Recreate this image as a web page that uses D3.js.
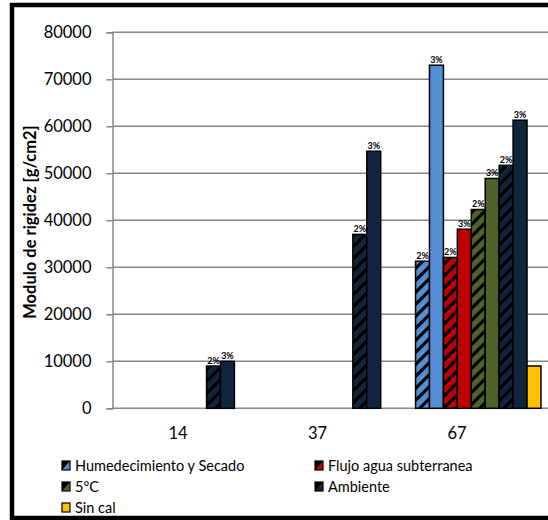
<!DOCTYPE html>
<html>
<head>
<meta charset="utf-8">
<script src="https://cdn.jsdelivr.net/npm/d3@7"></script>
<style>
  html, body { margin: 0; padding: 0; background: #fff; }
  svg { display: block; }
</style>
</head>
<body>
<svg id="chart" width="548" height="520"></svg>
<script>
// Curing ages (days)
const categories = ["14", "37", "67"];

// Curing conditions shown in the legend
const seriesNames = ["Humedecimiento y Secado", "Flujo agua subterranea", "5ºC", "Ambiente", "Sin cal"];
const seriesColors = ["#558ed5", "#c00000", "#4f6228", "#10243e", "#ffc000"];

// Nine bars per age: each condition at 2% and 3% lime, then the untreated sample
const barSeries = [0, 0, 1, 1, 2, 2, 3, 3, 4];
const barLabels = ["2%", "3%", "2%", "3%", "2%", "3%", "2%", "3%", ""];

// Stiffness modulus [g/cm2] per bar, per age (null = not tested)
const values14 = [null, null, null, null, null, null, 9000, 10000, null];
const values37 = [null, null, null, null, null, null, 37000, 54700, null];
const values67 = [31300, 73000, 32100, 38100, 42300, 48900, 51700, 61300, 9000];

const yTicks = [0, 10000, 20000, 30000, 40000, 50000, 60000, 70000, 80000];
const yTitle = "Modulo de rigidez [g/cm2]";

const valuesByCategory = [values14, values37, values67];

const svg = d3.select("#chart");
const FONT = "Lato, 'Open Sans', sans-serif";

// Hatch pattern for the 2% bars, one per colour
const defs = svg.append("defs");
seriesColors.forEach((c, i) => {
  const p = defs.append("pattern")
    .attr("id", "hatch" + i)
    .attr("patternUnits", "userSpaceOnUse")
    .attr("width", 12).attr("height", 12);
  p.append("rect").attr("width", 12).attr("height", 12).attr("fill", c);
  p.append("path")
    .attr("d", "M-3,15 L15,-3 M-3,3 L3,-3 M9,15 L15,9")
    .attr("stroke", "#000").attr("stroke-width", 3.2);
});

// Outer frame
svg.append("rect")
  .attr("x", 12).attr("y", 5)
  .attr("width", 600).attr("height", 513)
  .attr("fill", "#fff")
  .attr("stroke", "#000").attr("stroke-width", 4.5);

const plot = { left: 112.5, top: 32.3, bottom: 408.3 };
const catStep = 146.3;

const x0 = d3.scaleBand()
  .domain(categories)
  .range([plot.left, plot.left + catStep * categories.length]);

const x1 = d3.scaleBand()
  .domain(d3.range(barSeries.length))
  .range([0, x0.bandwidth()])
  .paddingOuter(0.75);

const y = d3.scaleLinear()
  .domain([0, 80000])
  .range([plot.bottom, plot.top]);

// Category label positions along the base
const xLabel = d3.scalePoint()
  .domain(categories)
  .range([178, 457]);

// Gridlines
svg.append("g")
  .selectAll("line")
  .data(yTicks)
  .join("line")
  .attr("x1", plot.left).attr("x2", 560)
  .attr("y1", d => y(d)).attr("y2", d => y(d))
  .attr("stroke", "#868686").attr("stroke-width", 1.5);

// Y axis
const yAxis = svg.append("g")
  .attr("transform", `translate(${plot.left},0)`)
  .call(d3.axisLeft(y).tickValues(yTicks).tickSize(6).tickPadding(15).tickFormat(d3.format("d")));
yAxis.select(".domain").attr("stroke", "#868686").attr("stroke-width", 1.5);
yAxis.selectAll(".tick line").attr("stroke", "#868686").attr("stroke-width", 1.5);
yAxis.selectAll(".tick text")
  .attr("font-family", FONT).attr("font-size", 16.5).attr("fill", "#000");

// Y title
svg.append("text")
  .attr("transform", `translate(36,222) rotate(-90)`)
  .attr("text-anchor", "middle")
  .attr("font-family", FONT).attr("font-weight", "bold")
  .attr("font-size", 16.5).attr("fill", "#000")
  .text(yTitle);

// Category labels
svg.append("g")
  .selectAll("text")
  .data(categories)
  .join("text")
  .attr("x", d => xLabel(d))
  .attr("y", 439)
  .attr("text-anchor", "middle")
  .attr("font-family", FONT).attr("font-size", 16.5).attr("fill", "#000")
  .text(d => d);

// Bars
const barData = [];
categories.forEach((cat, ci) => {
  valuesByCategory[ci].forEach((v, bi) => {
    if (v !== null) barData.push({ cat, bi, v });
  });
});

const bars = svg.append("g");
bars.selectAll("rect")
  .data(barData)
  .join("rect")
  .attr("x", d => x0(d.cat) + x1(d.bi))
  .attr("y", d => y(d.v))
  .attr("width", x1.bandwidth())
  .attr("height", d => y(0) - y(d.v))
  .attr("fill", d => barLabels[d.bi] === "2%" ? `url(#hatch${barSeries[d.bi]})` : seriesColors[barSeries[d.bi]])
  .attr("stroke", "#000").attr("stroke-width", 1.5);

// Value labels (lime content)
bars.selectAll("text")
  .data(barData.filter(d => barLabels[d.bi] !== ""))
  .join("text")
  .attr("x", d => x0(d.cat) + x1(d.bi) + x1.bandwidth() / 2)
  .attr("y", d => y(d.v) - 2.5)
  .attr("text-anchor", "middle")
  .attr("font-family", FONT).attr("font-weight", "bold")
  .attr("font-size", 9).attr("fill", "#000")
  .text(d => barLabels[d.bi]);

// Legend
const legendPos = [[62, 466], [315, 466], [62, 487], [315, 487], [62, 508]];
const legend = svg.append("g");
seriesNames.forEach((name, i) => {
  const [lx, ly] = legendPos[i];
  const g = legend.append("g").attr("transform", `translate(${lx},${ly})`);
  g.append("rect")
    .attr("x", 0).attr("y", -5).attr("width", 8).attr("height", 9)
    .attr("fill", seriesColors[i]);
  if (i < 4) {
    g.append("path").attr("d", "M0,-5 L8,-5 L0,4 Z").attr("fill", "#000");
  }
  g.append("rect")
    .attr("x", 0).attr("y", -5).attr("width", 8).attr("height", 9)
    .attr("fill", "none").attr("stroke", "#000").attr("stroke-width", 1.2);
  g.append("text")
    .attr("x", 13).attr("y", 5)
    .attr("font-family", FONT).attr("font-size", 14.5).attr("fill", "#000")
    .text(name);
});
</script>
</body>
</html>
